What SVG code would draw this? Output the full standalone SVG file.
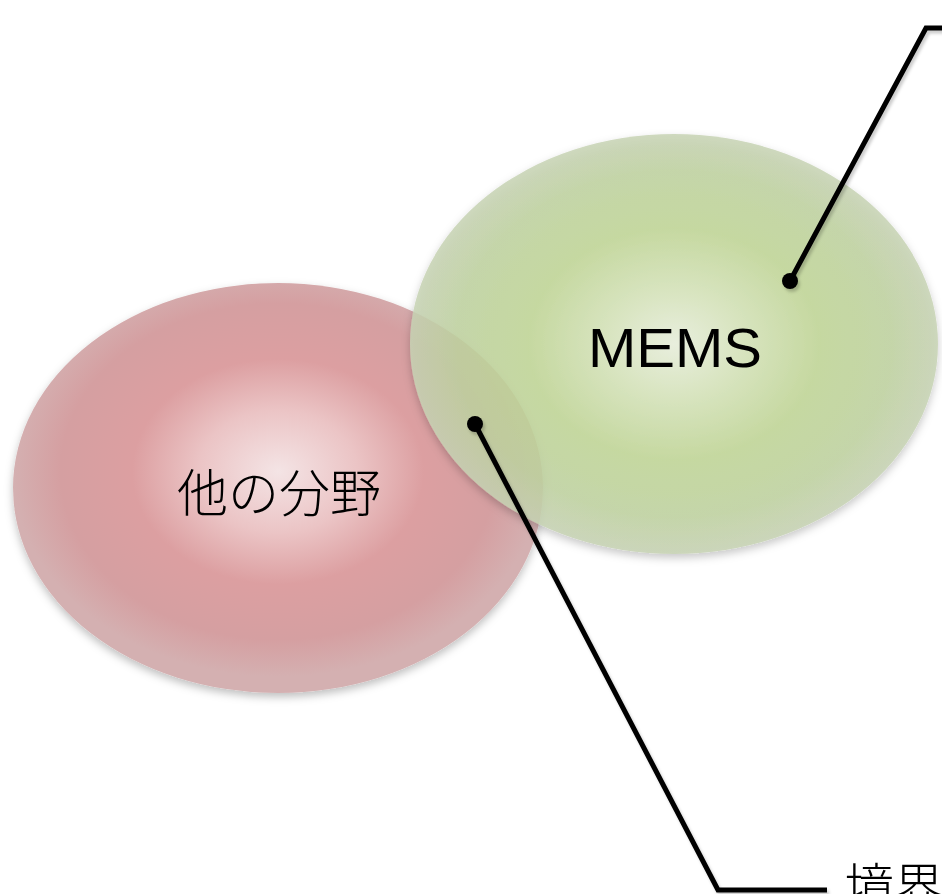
<svg xmlns="http://www.w3.org/2000/svg" width="942" height="894" viewBox="0 0 942 894">
  <defs>
    <radialGradient id="pinkFill" cx="0.5" cy="0.46" r="0.5">
      <stop offset="0" stop-color="#f4e4e5"/>
      <stop offset="0.3" stop-color="#ebc4c5"/>
      <stop offset="0.55" stop-color="#dc9fa1"/>
      <stop offset="0.82" stop-color="#d59fa1"/>
      <stop offset="1" stop-color="#d4b0b1"/>
    </radialGradient>
    <radialGradient id="greenFill" cx="0.5" cy="0.5" r="0.5">
      <stop offset="0" stop-color="#e9f0dc"/>
      <stop offset="0.28" stop-color="#d4e3b7"/>
      <stop offset="0.55" stop-color="#c1d696"/>
      <stop offset="0.82" stop-color="#c0d3a0"/>
      <stop offset="1" stop-color="#c7d3b4"/>
    </radialGradient>
    <filter id="softShadow" x="-10%" y="-10%" width="120%" height="125%">
      <feDropShadow dx="0" dy="4" stdDeviation="4" flood-color="#000" flood-opacity="0.25"/>
    </filter>
    <filter id="lineShadow" x="-10%" y="-10%" width="120%" height="120%">
      <feDropShadow dx="2" dy="3" stdDeviation="1.5" flood-color="#000" flood-opacity="0.2"/>
    </filter>
  </defs>
  <style>
    .label-jp { font-family: "Noto Sans CJK JP", "Noto Sans", sans-serif; font-weight: 300; fill: #000; }
    .label-en { font-family: "Liberation Sans", Arial, sans-serif; font-weight: 300; fill: #000; }
    .leader { fill: none; stroke: #000; stroke-width: 5; stroke-linejoin: miter; }
    .dot { fill: #000; }
  </style>

  <rect width="942" height="894" fill="#fff"/>

  <g id="other-fields">
    <ellipse cx="278" cy="488" rx="265" ry="205" fill="url(#pinkFill)" filter="url(#softShadow)"/>
    <text class="label-jp" x="279" y="512" font-size="51" text-anchor="middle">他の分野</text>
  </g>

  <g id="mems">
    <ellipse cx="674" cy="344" rx="264" ry="210" fill="url(#greenFill)" fill-opacity="0.85" filter="url(#softShadow)"/>
    <text class="label-en" x="675" y="367" font-size="56" text-anchor="middle" textLength="174" lengthAdjust="spacingAndGlyphs">MEMS</text>
  </g>

  <g id="boundary-label">
    <text class="label-jp" x="844" y="905" font-size="50">境界</text>
  </g>

  <g id="connectors" filter="url(#lineShadow)">
    <polyline class="leader" points="790,281 926,28 944,28"/>
    <circle class="dot" cx="790" cy="281" r="8"/>
    <polyline class="leader" points="475,424 718,890 827,890"/>
    <circle class="dot" cx="475" cy="424" r="8"/>
  </g>
</svg>
